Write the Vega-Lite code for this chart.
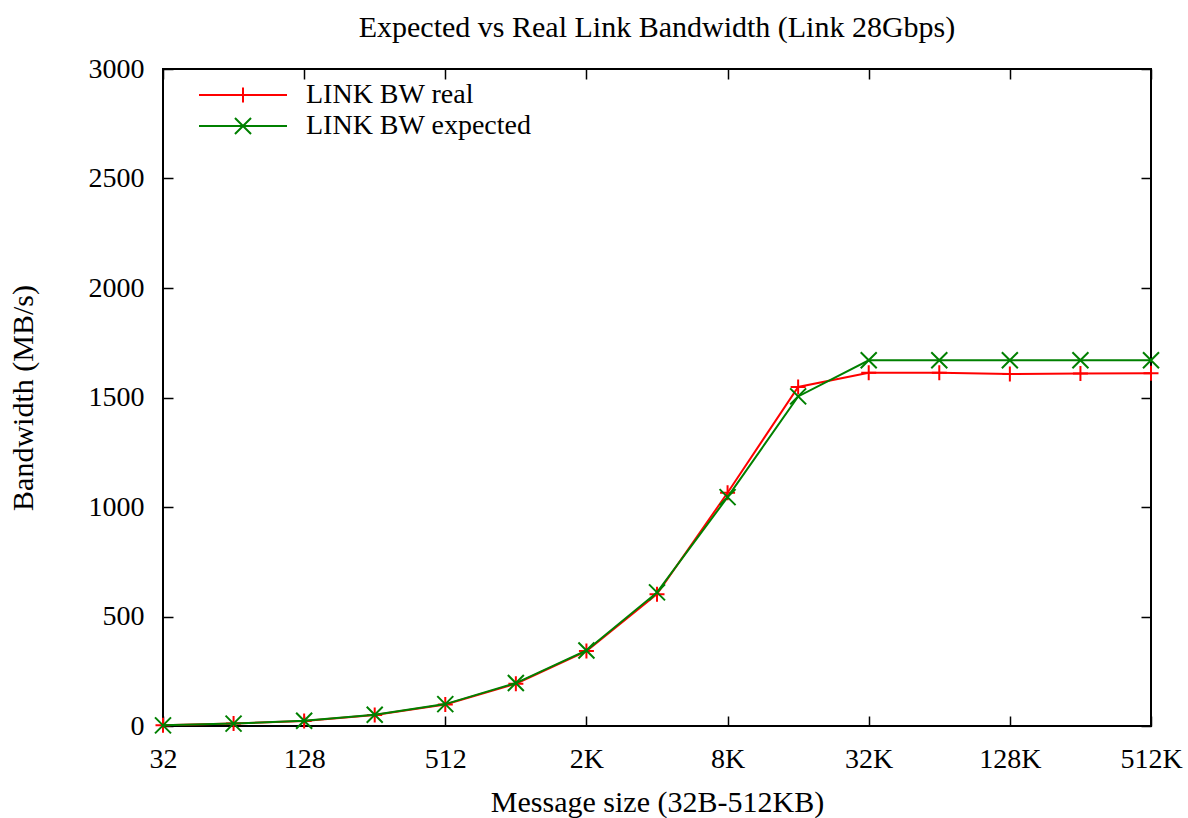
{
  "$schema": "https://vega.github.io/schema/vega-lite/v6.json",
  "width": 988,
  "height": 657,
  "autosize": {"type": "none"},
  "padding": {"left": 163, "top": 69, "right": 37, "bottom": 92},
  "background": "white",
  "title": {
    "text": "Expected vs Real Link Bandwidth (Link 28Gbps)",
    "font": "Liberation Serif",
    "fontSize": 30,
    "fontWeight": "normal",
    "color": "#000",
    "anchor": "middle",
    "frame": "group",
    "baseline": "alphabetic",
    "offset": 8,
    "dy": 20
  },
  "config": {
    "view": {"stroke": "#000", "strokeWidth": 2},
    "axis": {
      "labelFont": "Liberation Serif",
      "labelFontSize": 28,
      "labelColor": "#000",
      "titleFont": "Liberation Serif",
      "titleFontSize": 30,
      "titleFontWeight": "normal",
      "titleColor": "#000",
      "tickColor": "#000",
      "tickWidth": 1.5,
      "grid": false,
      "domain": false,
      "labelFlush": false,
      "labelOverlap": false,
      "labelBound": false
    }
  },
  "data": {
    "values": [
      {"size": 32, "bw": 3, "series": "LINK BW real"},
      {"size": 64, "bw": 11, "series": "LINK BW real"},
      {"size": 128, "bw": 23, "series": "LINK BW real"},
      {"size": 256, "bw": 50, "series": "LINK BW real"},
      {"size": 512, "bw": 98, "series": "LINK BW real"},
      {"size": 1024, "bw": 193, "series": "LINK BW real"},
      {"size": 2048, "bw": 342, "series": "LINK BW real"},
      {"size": 4096, "bw": 602, "series": "LINK BW real"},
      {"size": 8192, "bw": 1065, "series": "LINK BW real"},
      {"size": 16384, "bw": 1548, "series": "LINK BW real"},
      {"size": 32768, "bw": 1613, "series": "LINK BW real"},
      {"size": 65536, "bw": 1613, "series": "LINK BW real"},
      {"size": 131072, "bw": 1607, "series": "LINK BW real"},
      {"size": 262144, "bw": 1610, "series": "LINK BW real"},
      {"size": 524288, "bw": 1611, "series": "LINK BW real"},
      {"size": 32, "bw": 3, "series": "LINK BW expected"},
      {"size": 64, "bw": 11, "series": "LINK BW expected"},
      {"size": 128, "bw": 24, "series": "LINK BW expected"},
      {"size": 256, "bw": 51, "series": "LINK BW expected"},
      {"size": 512, "bw": 100, "series": "LINK BW expected"},
      {"size": 1024, "bw": 196, "series": "LINK BW expected"},
      {"size": 2048, "bw": 345, "series": "LINK BW expected"},
      {"size": 4096, "bw": 610, "series": "LINK BW expected"},
      {"size": 8192, "bw": 1045, "series": "LINK BW expected"},
      {"size": 16384, "bw": 1505, "series": "LINK BW expected"},
      {"size": 32768, "bw": 1670, "series": "LINK BW expected"},
      {"size": 65536, "bw": 1670, "series": "LINK BW expected"},
      {"size": 131072, "bw": 1670, "series": "LINK BW expected"},
      {"size": 262144, "bw": 1670, "series": "LINK BW expected"},
      {"size": 524288, "bw": 1670, "series": "LINK BW expected"}
    ]
  },
  "layer": [
    {
      "transform": [{"filter": "datum.series === 'LINK BW real'"}],
      "mark": {"type": "line", "strokeWidth": 2},
      "encoding": {
        "x": {
          "field": "size", "type": "quantitative",
          "scale": {"type": "log", "base": 2, "domain": [32, 524288], "nice": false},
          "axis": {
            "orient": "bottom",
            "values": [32, 128, 512, 2048, 8192, 32768, 131072, 524288],
            "labelExpr": "datum.value >= 1024 ? (datum.value / 1024) + 'K' : '' + datum.value",
            "tickSize": -10,
            "labelPadding": 29,
            "title": "Message size (32B-512KB)",
            "titlePadding": 14
          }
        },
        "y": {
          "field": "bw", "type": "quantitative",
          "scale": {"domain": [0, 3000], "nice": false, "zero": true},
          "axis": {
            "orient": "left",
            "values": [0, 500, 1000, 1500, 2000, 2500, 3000],
            "format": "d",
            "tickSize": -10,
            "labelPadding": 29,
            "title": "Bandwidth (MB/s)",
            "titlePadding": 50
          }
        },
        "color": {
          "field": "series", "type": "nominal",
          "scale": {"domain": ["LINK BW real", "LINK BW expected"], "range": ["#ff0000", "#008000"]},
          "legend": {
            "orient": "none",
            "legendX": 66,
            "legendY": 12,
            "title": null,
            "padding": 0,
            "labelFont": "Liberation Serif",
            "labelFontSize": 28,
            "labelColor": "#000",
            "labelLimit": 0,
            "labelOffset": 49,
            "symbolSize": 484,
            "symbolStrokeWidth": 2,
            "rowPadding": 3,
            "encode": {
              "symbols": {
                "update": {
                  "shape": {"signal": "datum.value === 'LINK BW real' ? 'M-4,0H4M0,-0.68V0.68' : 'M-4,0H4M-0.73,-0.73L0.73,0.73M-0.73,0.73L0.73,-0.73'"},
                  "fill": {"value": "transparent"}
                }
              }
            }
          }
        }
      }
    },
    {
      "transform": [{"filter": "datum.series === 'LINK BW real'"}],
      "mark": {"type": "point", "shape": "M-1,0H1M0,-1V1", "size": 225, "filled": false, "strokeWidth": 2, "opacity": 1},
      "encoding": {
        "x": {"field": "size", "type": "quantitative", "axis": null},
        "y": {"field": "bw", "type": "quantitative", "axis": null},
        "color": {"field": "series", "type": "nominal"}
      }
    },
    {
      "transform": [{"filter": "datum.series === 'LINK BW expected'"}],
      "mark": {"type": "line", "strokeWidth": 2},
      "encoding": {
        "x": {"field": "size", "type": "quantitative", "axis": null},
        "y": {"field": "bw", "type": "quantitative", "axis": null},
        "color": {"field": "series", "type": "nominal"}
      }
    },
    {
      "transform": [{"filter": "datum.series === 'LINK BW expected'"}],
      "mark": {"type": "point", "shape": "M-1,-1L1,1M-1,1L1,-1", "size": 256, "filled": false, "strokeWidth": 2, "opacity": 1},
      "encoding": {
        "x": {
          "field": "size", "type": "quantitative",
          "axis": {
            "orient": "top",
            "values": [32, 128, 512, 2048, 8192, 32768, 131072, 524288],
            "labels": false,
            "tickSize": -10,
            "title": null
          }
        },
        "y": {
          "field": "bw", "type": "quantitative",
          "axis": {
            "orient": "right",
            "values": [0, 500, 1000, 1500, 2000, 2500, 3000],
            "labels": false,
            "tickSize": -10,
            "title": null
          }
        },
        "color": {"field": "series", "type": "nominal"}
      }
    }
  ],
  "resolve": {"axis": {"x": "independent", "y": "independent"}}
}
